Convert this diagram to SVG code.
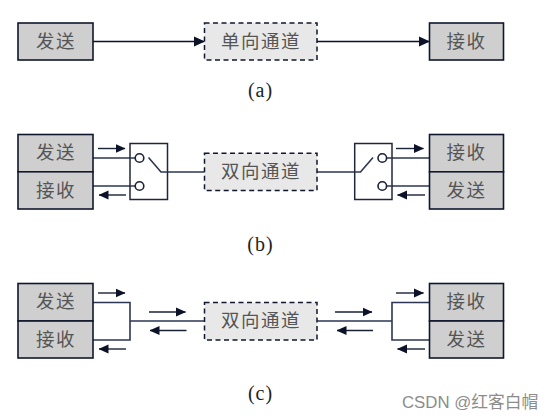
<svg xmlns="http://www.w3.org/2000/svg" width="554" height="420" viewBox="0 0 554 420">
<style>
.box{fill:#cfcfcf;stroke:#10172c;stroke-width:1.6}
.dash{fill:#e8e8e8;stroke:#10172c;stroke-width:1.5;stroke-dasharray:5 3.500}
.sw{fill:#fff;stroke:#20263a;stroke-width:1.5}
.ln{fill:none;stroke:#2c3654;stroke-width:1.6}
.ar{fill:none;stroke:#1a2238;stroke-width:1.4;marker-end:url(#ah)}
.arb{fill:none;stroke:#0c1228;stroke-width:1.6;marker-end:url(#ahb)}
.c{fill:#fff;stroke:#1a2238;stroke-width:1.6}
.t{font-family:"Liberation Serif","Noto Sans CJK SC",serif;font-size:18.500px;fill:#555;text-anchor:middle;letter-spacing:1.500px}
.cap{font-family:"Liberation Serif",serif;font-size:20px;fill:#222;text-anchor:middle;letter-spacing:1px}
.wm{font-family:"Liberation Sans","Noto Sans CJK SC",sans-serif;font-size:16.800px;fill:#8c8c8c}
</style>
<defs>
<marker id="ah" markerUnits="userSpaceOnUse" markerWidth="10" markerHeight="10" refX="9.500" refY="5" orient="auto"><path d="M0 0.500L10 5L0 9.500Z" fill="#0c1228"/></marker>
<marker id="ahb" markerUnits="userSpaceOnUse" markerWidth="11" markerHeight="11" refX="10.500" refY="5.500" orient="auto"><path d="M0 0.500L11 5.500L0 10.500Z" fill="#0c1228"/></marker>
</defs>
<g id="connectors">
<path class="arb" d="M93 41.500H204.500"/>
<path class="arb" d="M317 41.500H429.500"/>
<path class="ln" d="M93 158H135M93 186H135M161 172H204.500M317 172H360.500M387 158H429.500M387 186H429.500"/>
<path class="ar" d="M98 148.500H125"/>
<path class="ar" d="M126 195H99"/>
<path class="ar" d="M396 148.500H423.500"/>
<path class="ar" d="M425 195H397.500"/>
<path class="ln" d="M93 302.500H130V340H93M130 321H204.500"/>
<path class="ln" d="M429.500 302.500H392V340H429.500M392 321H317"/>
<path class="ar" d="M98 293H125"/>
<path class="ar" d="M126 349H99"/>
<path class="ar" d="M149 312H185.500"/>
<path class="ar" d="M186.500 330.500H150"/>
<path class="ar" d="M396 293H423.500"/>
<path class="ar" d="M425 349H397.500"/>
<path class="ar" d="M335 312H372"/>
<path class="ar" d="M373 330.500H337"/>
</g>
<g id="a-send"><rect class="box" x="18" y="23" width="75" height="37"/><text class="t" x="56" y="48">发送</text></g>
<g id="a-channel"><rect class="dash" x="204.500" y="23" width="112.500" height="37"/><text class="t" x="261" y="48">单向通道</text></g>
<g id="a-recv"><rect class="box" x="429.500" y="23" width="74" height="37"/><text class="t" x="466.500" y="48">接收</text></g>
<g id="b-send"><rect class="box" x="18" y="134.500" width="75" height="37.300"/><text class="t" x="56" y="159">发送</text></g>
<g id="b-recv"><rect class="box" x="18" y="171.800" width="75" height="37.200"/><text class="t" x="56" y="196.500">接收</text></g>
<g id="b-switch-l"><rect class="sw" x="130" y="143.500" width="37.500" height="56"/><path class="ln" d="M148.500 157.500L161 172H167.500M130 158H135M130 186H135"/><circle class="c" cx="139.500" cy="158" r="4.300"/><circle class="c" cx="139.500" cy="186" r="4.300"/></g>
<g id="b-channel"><rect class="dash" x="204.500" y="153.300" width="112.500" height="37.200"/><text class="t" x="261" y="177.500">双向通道</text></g>
<g id="b-switch-r"><rect class="sw" x="354.700" y="143.500" width="37.300" height="56"/><path class="ln" d="M354.700 172H360.500L373 157.500M387 158H392M387 186H392"/><circle class="c" cx="382.300" cy="158" r="4.300"/><circle class="c" cx="382.300" cy="186" r="4.300"/></g>
<g id="b-recv-r"><rect class="box" x="429.500" y="134.500" width="74" height="37.300"/><text class="t" x="466.500" y="159">接收</text></g>
<g id="b-send-r"><rect class="box" x="429.500" y="171.800" width="74" height="37.200"/><text class="t" x="466.500" y="196.500">发送</text></g>
<g id="c-send"><rect class="box" x="18" y="283.500" width="75" height="37.500"/><text class="t" x="56" y="308">发送</text></g>
<g id="c-recv"><rect class="box" x="18" y="321" width="75" height="37"/><text class="t" x="56" y="345.500">接收</text></g>
<g id="c-channel"><rect class="dash" x="204.500" y="302.500" width="112.500" height="37.500"/><text class="t" x="261" y="327">双向通道</text></g>
<g id="c-recv-r"><rect class="box" x="429.500" y="283.500" width="74" height="37.500"/><text class="t" x="466.500" y="308">接收</text></g>
<g id="c-send-r"><rect class="box" x="429.500" y="321" width="74" height="37"/><text class="t" x="466.500" y="345.500">发送</text></g>
<text class="cap" x="260.500" y="97">(a)</text>
<text class="cap" x="260.500" y="251">(b)</text>
<text class="cap" x="260.500" y="400">(c)</text>
<text class="wm" x="402" y="408">CSDN @红客白帽</text>
</svg>
